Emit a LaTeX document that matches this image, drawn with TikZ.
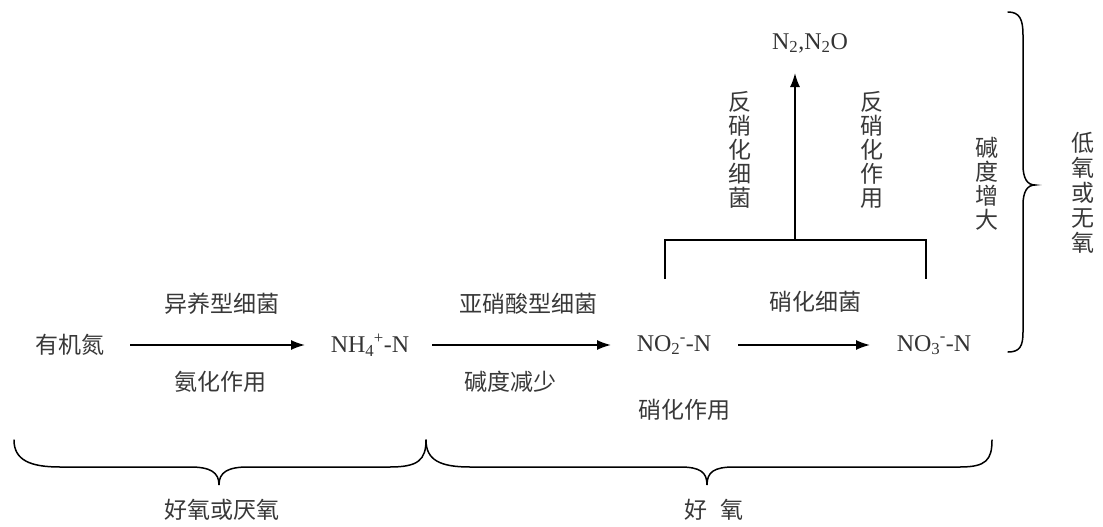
\documentclass[tikz,border=0pt]{standalone}
\usepackage{fontspec}
\setmainfont{Liberation Serif}
\newfontfamily\cjk{Noto Sans CJK SC}
\usetikzlibrary{arrows.meta}
\begin{document}
\begin{tikzpicture}[x=1pt,y=-1pt,
  cn/.style={font=\cjk\fontsize{23}{24}\selectfont, inner sep=0pt, text=black!78},
  chem/.style={font=\fontsize{24}{26}\selectfont, inner sep=0pt, text=black!80},
  vt/.style={cn, align=center},
  arr/.style={line width=1.6pt, -{Latex[length=14pt,width=10pt]}},
  ln/.style={line width=1.6pt},
  brc/.style={line width=1.5pt, line cap=round}
]
\useasboundingbox (0,0) rectangle (1103,527);
% main chain
\node[cn] (org) at (70,345) {有机氮};
\node[chem] (nh4) at (370,345) {NH\textsubscript{4}\kern-0.5pt\textsuperscript{+}-N};
\node[chem] (no2) at (674,345) {NO\textsubscript{2}\kern-0.5pt\textsuperscript{-}-N};
\node[chem] (no3) at (934,345) {NO\textsubscript{3}\kern-0.5pt\textsuperscript{-}-N};
\node[chem] (n2) at (810,43) {N\textsubscript{2},N\textsubscript{2}O};

\draw[arr] ([xshift=60pt]org.center) -- ([xshift=-65pt]nh4.center);
\draw[arr] ([xshift=62pt]nh4.center) -- ([xshift=-63pt]no2.center);
\draw[arr] ([xshift=64pt]no2.center) -- ([xshift=-64pt]no3.center);

% labels on arrows
\node[cn] (l1) at (222,304) {异养型细菌};
\node[cn] (l2) at (220,382) {氨化作用};
\node[cn] (l3) at (528,304) {亚硝酸型细菌};
\node[cn] (l4) at (510,382) {碱度减少};
\node[cn] (l5) at (815,302) {硝化细菌};
\node[cn] (l6) at (684,410) {硝化作用};

% denitrification bracket
\coordinate (jn) at (795,240);
\coordinate (bl) at (665,279);
\coordinate (br) at (926,279);
\draw[ln] (bl) |- (jn) -| (br);
\draw[arr, shorten >=20pt] (jn) -- (n2.south -| jn);

\node[vt] (v1) at (740,150) {反\\硝\\化\\细\\菌};
\node[vt] (v2) at (872,150) {反\\硝\\化\\作\\用};
\node[vt] (v3) at (987,184) {碱\\度\\增\\大};
\node[vt, font=\cjk\fontsize{23}{25}\selectfont] (v4) at (1083,193) {低\\氧\\或\\无\\氧};

% right brace
\draw[brc] (1008,12) .. controls (1020,12) and (1023,20) .. (1023,35) -- (1023,165)
  .. controls (1023,178) and (1027,185) .. (1035,185)
  .. controls (1027,185) and (1023,192) .. (1023,205) -- (1023,332)
  .. controls (1023,346) and (1020,352) .. (1008,352);

% bottom braces
\draw[brc] (14,440) .. controls (14,460) and (30,467) .. (60,467) -- (190,467)
  .. controls (210,467) and (219,472) .. (219,485)
  .. controls (219,472) and (228,467) .. (248,467) -- (390,467)
  .. controls (418,467) and (426,460) .. (426,440);
\draw[brc] (426,440) .. controls (426,460) and (440,467) .. (470,467) -- (680,467)
  .. controls (700,467) and (707,472) .. (707,485)
  .. controls (707,472) and (714,467) .. (734,467) -- (960,467)
  .. controls (986,467) and (992,460) .. (992,440);

\node[cn] (b1) at (222,510) {好氧或厌氧};
\node[cn] (b2) at (714,510) {好\hspace{0.6em}氧};
\end{tikzpicture}
\end{document}
